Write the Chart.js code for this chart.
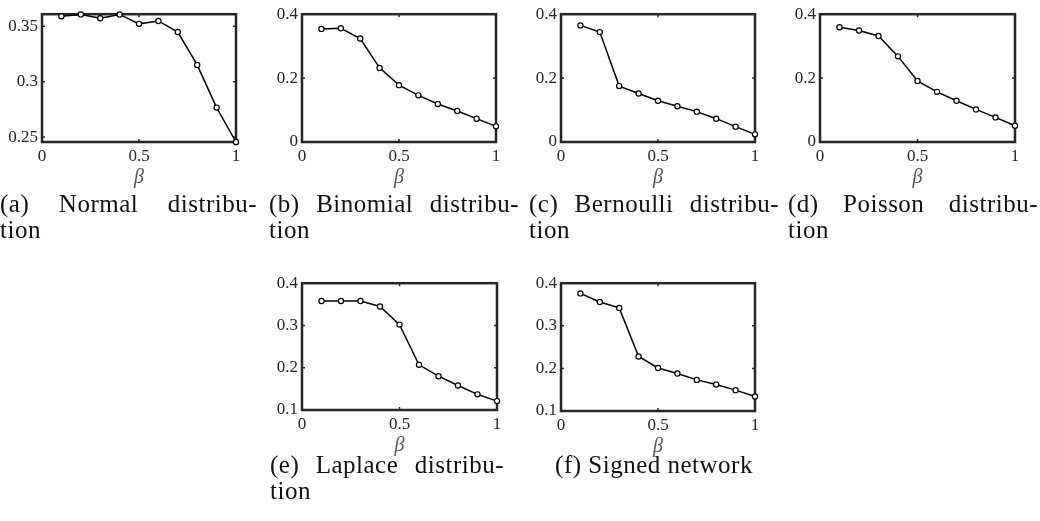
<!DOCTYPE html>
<html>
<head>
<meta charset="utf-8">
<script src="https://cdn.jsdelivr.net/npm/chart.js@4.4.1/dist/chart.umd.min.js"></script>
<style>
body{margin:0;background:#fff;width:1040px;height:521px;position:relative;overflow:hidden;font-family:"Liberation Serif","Times New Roman","DejaVu Serif",serif;}
canvas{position:absolute;}
.cap{position:absolute;font-size:25px;line-height:26px;letter-spacing:0.5px;color:#111;}
.cap .l1{text-align:justify;text-align-last:justify;}
.cap.one{text-align:center;}
</style>
</head>
<body>

<canvas id="chartA"></canvas>
<canvas id="chartB"></canvas>
<canvas id="chartC"></canvas>
<canvas id="chartD"></canvas>
<canvas id="chartE"></canvas>
<canvas id="chartF"></canvas>

<div class="cap" style="left:0;top:191px;width:257px"><div class="l1">(a) Normal distribu-</div><div>tion</div></div>
<div class="cap" style="left:269px;top:191px;width:250px"><div class="l1">(b) Binomial distribu-</div><div>tion</div></div>
<div class="cap" style="left:529px;top:191px;width:250px"><div class="l1">(c) Bernoulli distribu-</div><div>tion</div></div>
<div class="cap" style="left:788px;top:191px;width:250px"><div class="l1">(d) Poisson distribu-</div><div>tion</div></div>
<div class="cap" style="left:270px;top:452px;width:234px"><div class="l1">(e) Laplace distribu-</div><div>tion</div></div>
<div class="cap one" style="left:529px;top:452px;width:250px">(f) Signed network</div>

<script>
// beta on the x axis, same for all panels
const betaValues = [0.1, 0.2, 0.3, 0.4, 0.5, 0.6, 0.7, 0.8, 0.9, 1.0];

const normalValues    = [0.3589, 0.3606, 0.3571, 0.3606, 0.3521, 0.3547, 0.3447, 0.3151, 0.2766, 0.2456];
const binomialValues  = [0.354, 0.356, 0.324, 0.232, 0.178, 0.146, 0.119, 0.097, 0.073, 0.049];
const bernoulliValues = [0.365, 0.344, 0.175, 0.152, 0.129, 0.112, 0.095, 0.073, 0.048, 0.024];
const poissonValues   = [0.359, 0.349, 0.332, 0.268, 0.191, 0.157, 0.129, 0.102, 0.077, 0.051];
const laplaceValues   = [0.358, 0.358, 0.358, 0.345, 0.302, 0.207, 0.180, 0.158, 0.137, 0.121];
const signedValues    = [0.376, 0.356, 0.342, 0.228, 0.201, 0.188, 0.173, 0.162, 0.149, 0.134];

const xTicks = [0, 0.5, 1];
const yTicksNormal = [0.25, 0.3, 0.35];
const yTicksZero = [0, 0.2, 0.4];
const yTicksTenth = [0.1, 0.2, 0.3, 0.4];

// plot box left, top, width, height (px on page)
const panels = [
  {id:'chartA', values:normalValues,    min:0.2456, max:0.3608, ticks:yTicksNormal, box:[42, 12, 194, 130]},
  {id:'chartB', values:binomialValues,  min:0, max:0.4, ticks:yTicksZero, box:[302, 12, 194, 130]},
  {id:'chartC', values:bernoulliValues, min:0, max:0.4, ticks:yTicksZero, box:[561, 12, 194, 130]},
  {id:'chartD', values:poissonValues,   min:0, max:0.4, ticks:yTicksZero, box:[820, 12, 195, 130]},
  {id:'chartE', values:laplaceValues,   min:0.1, max:0.4, ticks:yTicksTenth, box:[302, 281, 195, 129]},
  {id:'chartF', values:signedValues,    min:0.1, max:0.4, ticks:yTicksTenth, box:[561, 281, 194, 130]}
];

const Y_W = 45, X_H = 50, PAD_T = 12, PAD_R = 12;
const serif = '"Liberation Serif", "Times New Roman", "DejaVu Serif", serif';
const labelFont = {family:serif, size:17};

// matlab style box with inward tick marks
const framePlugin = {
  id:'frame',
  beforeDatasetsDraw(chart){
    const {ctx, chartArea:a} = chart;
    const x = chart.scales.x, y = chart.scales.y;
    ctx.save();
    ctx.strokeStyle = '#262626';
    ctx.lineWidth = 1.5;
    ctx.beginPath();
    x.ticks.forEach(t => {
      const px = x.getPixelForValue(t.value);
      ctx.moveTo(px, a.bottom); ctx.lineTo(px, a.bottom - 3);
      ctx.moveTo(px, a.top); ctx.lineTo(px, a.top + 3);
    });
    y.ticks.forEach(t => {
      const py = y.getPixelForValue(t.value);
      ctx.moveTo(a.left, py); ctx.lineTo(a.left + 3, py);
      ctx.moveTo(a.right, py); ctx.lineTo(a.right - 3, py);
    });
    ctx.stroke();
    ctx.lineWidth = 2.5;
    ctx.strokeRect(a.left, a.top, a.right - a.left, a.bottom - a.top);
    ctx.restore();
  }
};

panels.forEach(p => {
  const cv = document.getElementById(p.id);
  const [L, T, W, H] = p.box;
  cv.width = W + Y_W + PAD_R;
  cv.height = H + PAD_T + X_H;
  cv.style.left = (L - Y_W) + 'px';
  cv.style.top = (T - PAD_T) + 'px';

  new Chart(cv, {
    type:'line',
    data:{
      datasets:[{
        data: betaValues.map((b, i) => ({x:b, y:p.values[i]})),
        borderColor:'#000',
        borderWidth:1.5,
        pointRadius:2.6,
        pointBorderWidth:1.2,
        pointBackgroundColor:'#fff',
        pointBorderColor:'#000',
        tension:0,
        clip:false
      }]
    },
    options:{
      responsive:false,
      animation:false,
      devicePixelRatio:1,
      layout:{padding:{left:0, top:PAD_T, right:PAD_R, bottom:0}},
      plugins:{legend:{display:false}, tooltip:{enabled:false}},
      scales:{
        x:{
          type:'linear', min:0, max:1,
          afterBuildTicks: s => { s.ticks = xTicks.map(v => ({value:v})); },
          afterFit: s => { s.height = X_H; },
          grid:{display:false, drawTicks:false},
          border:{display:false},
          ticks:{padding:4, color:'#262626', font:labelFont, maxRotation:0, autoSkip:false, callback:v => String(v)},
          title:{display:true, text:'β', color:'#555', font:{family:serif, size:20, style:'italic'}, padding:{top:0, bottom:2}}
        },
        y:{
          type:'linear', min:p.min, max:p.max,
          afterBuildTicks: s => { s.ticks = p.ticks.map(v => ({value:v})); },
          afterFit: s => { s.width = Y_W; },
          grid:{display:false, drawTicks:false},
          border:{display:false},
          ticks:{padding:4, color:'#262626', font:labelFont, autoSkip:false, callback:v => String(v)}
        }
      }
    },
    plugins:[framePlugin]
  });
});
</script>
</body>
</html>
